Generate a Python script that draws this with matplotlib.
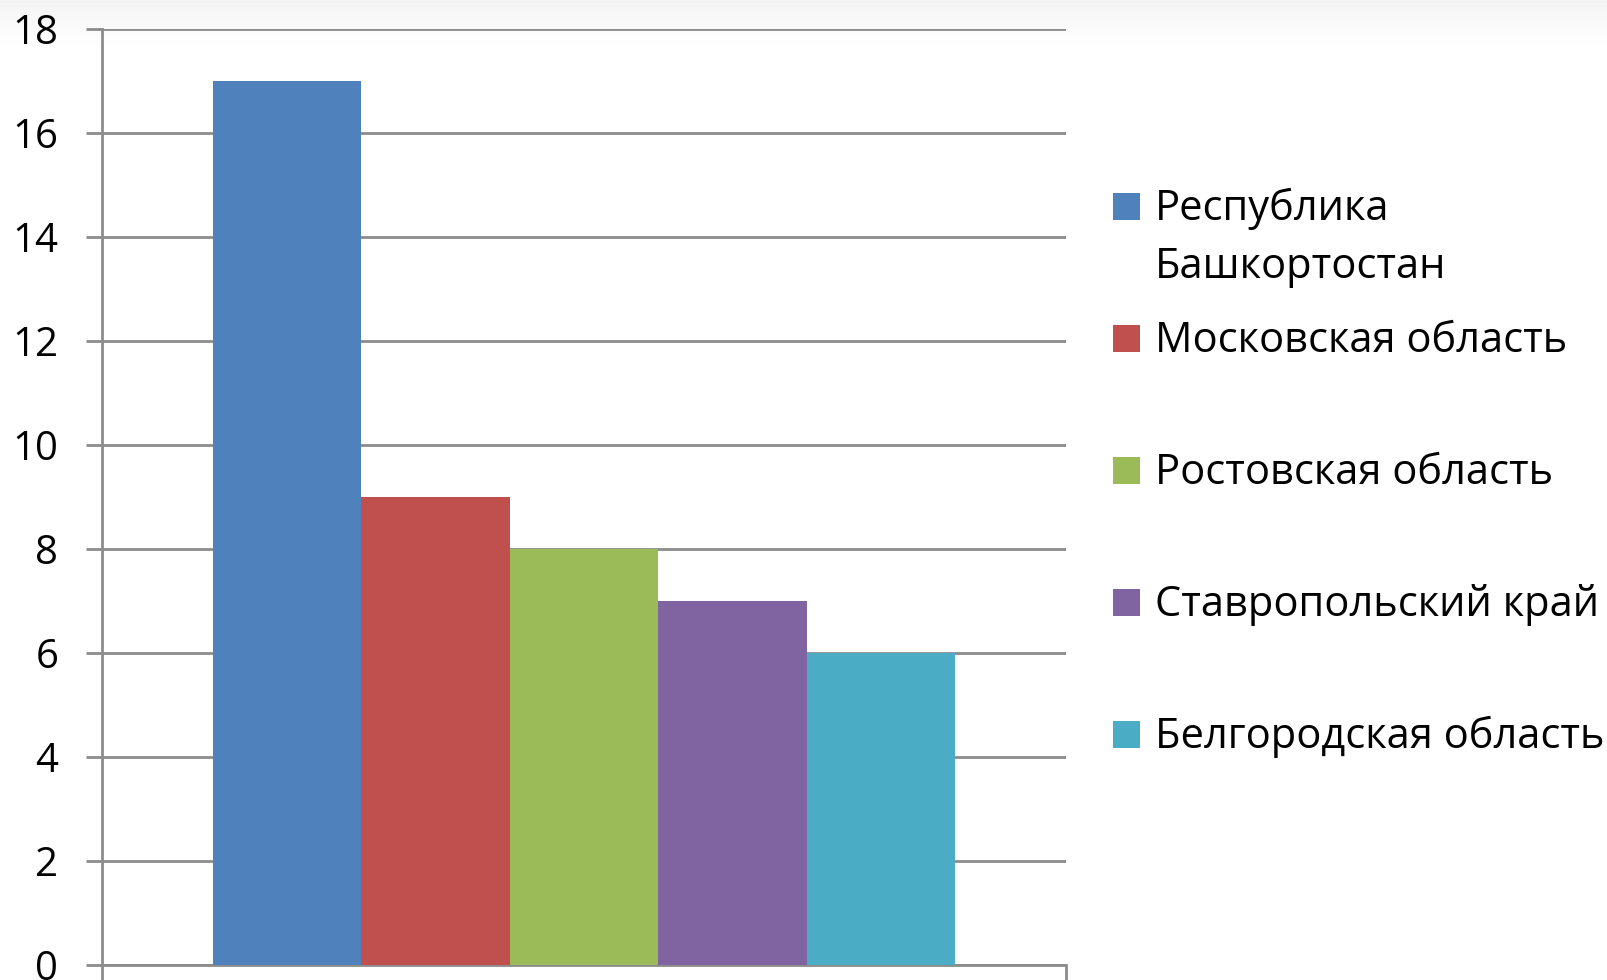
import numpy as np
import matplotlib.pyplot as plt
from matplotlib.patches import Rectangle

plt.rcParams['font.family'] = ['Open Sans', 'DejaVu Sans']

# -----------------------------
# Data
# -----------------------------
regions = ['Республика\nБашкортостан', 'Московская область', 'Ростовская область',
           'Ставропольский край', 'Белгородская область']
values = [17, 9, 8, 7, 6]
colors = ['#4F81BD', '#C0504D', '#9BBB59', '#8064A2', '#4BACC6']
y_ticks = [0, 2, 4, 6, 8, 10, 12, 14, 16, 18]

W, H = 1607, 980
fig = plt.figure(figsize=(W / 100, H / 100), dpi=100)

# soft grey fade at the very top of the screenshot
bg = fig.add_axes([0, 1 - 50 / H, 1, 50 / H], zorder=-10)
fade = np.linspace(0.955, 1.0, 50).reshape(-1, 1)
bg.imshow(fade, cmap='gray', vmin=0, vmax=1, aspect='auto', extent=[0, 1, 0, 1])
bg.axis('off')

ax = fig.add_axes([102 / W, 15 / H, 964 / W, 936 / H])
ax.patch.set_alpha(0)

grid_col = '#8c8c8c'
bar_w = 0.154
start = -bar_w * len(values) / 2
for i, (v, c) in enumerate(zip(values, colors)):
    ax.bar(start + bar_w * (i + 0.5), v, width=bar_w, color=c, zorder=3)

ax.set_xlim(-0.5, 0.5)
ax.set_ylim(0, 18)
ax.set_yticks(y_ticks)
ax.set_yticklabels([str(t) for t in y_ticks], fontsize=29)
ax.set_xticks([-0.5, 0.5])
ax.set_xticklabels([])

ax.grid(axis='y', color=grid_col, linewidth=2, zorder=0)
ax.set_axisbelow(True)
for s in ['top', 'right']:
    ax.spines[s].set_visible(False)
for s in ['left', 'bottom']:
    ax.spines[s].set_color(grid_col)
    ax.spines[s].set_linewidth(2)
ax.tick_params(axis='y', length=11.5, width=2, color=grid_col, pad=20, labelcolor='black')
ax.tick_params(axis='x', length=12, width=2, color=grid_col)

# -----------------------------
# Legend (square sits on the baseline of the first line)
# -----------------------------
first_base = 220
step = 132
line_step = 58
sq = 27
for i, (lab, c) in enumerate(zip(regions, colors)):
    base = first_base + step * i
    fig.patches.append(Rectangle((1113 / W, 1 - base / H), sq / W, sq / H,
                                 transform=fig.transFigure, facecolor=c, edgecolor='none'))
    for j, line in enumerate(lab.split('\n')):
        fig.text(1155 / W, 1 - (base + j * line_step) / H, line, fontsize=30,
                 va='baseline', ha='left')

fig.savefig('out.png', dpi=100)
